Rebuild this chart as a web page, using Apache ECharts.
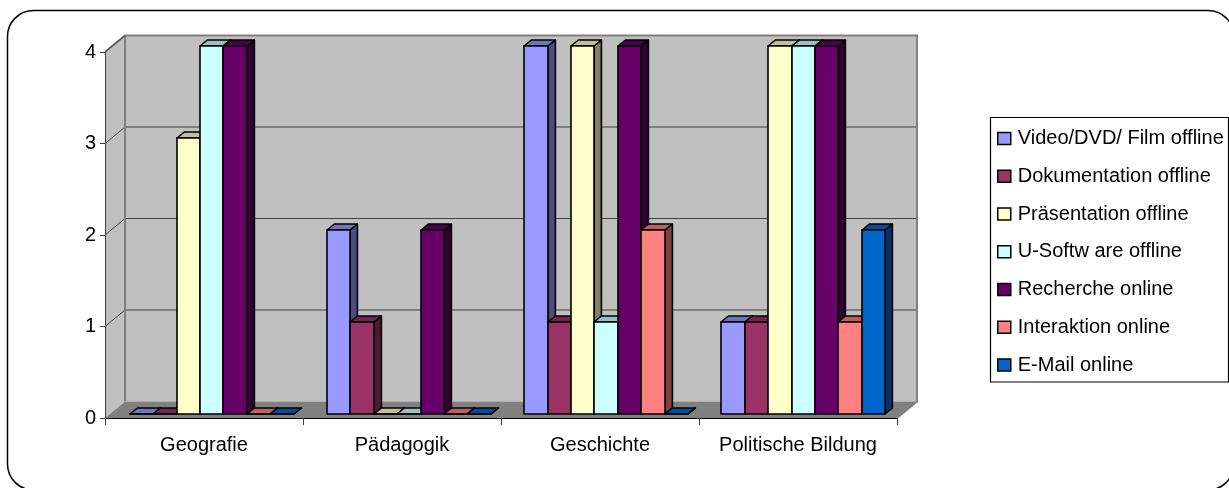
<!DOCTYPE html>
<html>
<head>
<meta charset="utf-8">
<style>html,body{margin:0;padding:0;background:#fff}#chart{width:1229px;height:488px}</style>
<script src="https://cdn.jsdelivr.net/npm/echarts@6/dist/echarts.min.js"></script>
</head>
<body>
<div id="chart"></div>
<script>
const categories = ['Geografie', 'Pädagogik', 'Geschichte', 'Politische Bildung'];
const yTicks = [0, 1, 2, 3, 4];
const videoOffline = [0, 2, 4, 1];
const dokuOffline = [0, 1, 1, 1];
const praesentationOffline = [3, 0, 4, 4];
const softwareOffline = [4, 0, 1, 4];
const rechercheOnline = [4, 2, 4, 4];
const interaktionOnline = [0, 0, 2, 1];
const mailOnline = [0, 0, 0, 2];

const seriesDefs = [
  ['Video/DVD/ Film offline', videoOffline, '#9999FF'],
  ['Dokumentation offline', dokuOffline, '#993366'],
  ['Präsentation offline', praesentationOffline, '#FFFFCC'],
  ['U-Softw are offline', softwareOffline, '#CCFFFF'],
  ['Recherche online', rechercheOnline, '#660066'],
  ['Interaktion online', interaktionOnline, '#FF8080'],
  ['E-Mail online', mailOnline, '#0066CC']
];

const FONT = '"Liberation Sans", Arial, sans-serif';
// Oblique projection: how far the back wall and each bar's back face shift on screen.
const WALL_DX = 20, WALL_DY = -16.5;
const BAR_DX = 7.4, BAR_DY = -6;
const BAR_RATIO = 0.1186;

function shade(hex, k) {
  const n = parseInt(hex.slice(1), 16);
  const c = [(n >> 16) & 255, (n >> 8) & 255, n & 255].map(v => Math.round(v * k));
  return 'rgb(' + c.join(',') + ')';
}

// Walls, floor and the gridlines that wrap around the side wall and back wall.
function renderFrame(params, api) {
  const xs = [api.coord([0, 0])[0] - api.size([1, 0])[0] / 2,
              api.coord([3, 0])[0] + api.size([1, 0])[0] / 2];
  const x0 = xs[0], x1 = xs[1];
  const yBase = api.coord([0, 0])[1];
  const yTop = api.coord([0, 4])[1];
  const bx0 = x0 + WALL_DX, bx1 = x1 + WALL_DX;
  const children = [
    { type: 'polygon', shape: { points: [[x0, yTop], [bx0, yTop + WALL_DY], [bx0, yBase + WALL_DY], [x0, yBase]] },
      style: { fill: '#C0C0C0', stroke: null } },
    { type: 'rect', shape: { x: bx0, y: yTop + WALL_DY, width: bx1 - bx0, height: yBase - yTop },
      style: { fill: '#C0C0C0', stroke: null } },
    { type: 'polygon', shape: { points: [[x0, yBase], [x1, yBase], [bx1, yBase + WALL_DY], [bx0, yBase + WALL_DY]] },
      style: { fill: '#808080', stroke: null } }
  ];
  yTicks.forEach(t => {
    const y = api.coord([0, t])[1];
    if (t > 0 && t < 4) {
      children.push({ type: 'polyline', shape: { points: [[x0, y], [bx0, y + WALL_DY], [bx1, y + WALL_DY]] },
        style: { fill: null, stroke: '#404040', lineWidth: 1 } });
    }
  });
  children.push({ type: 'polyline', shape: { points: [[x0, yTop], [bx0, yTop + WALL_DY], [bx1, yTop + WALL_DY], [bx1, yBase + WALL_DY], [x1, yBase]] },
    style: { fill: null, stroke: '#808080', lineWidth: 2 } });
  children.push({ type: 'line', shape: { x1: bx0, y1: yTop + WALL_DY, x2: bx0, y2: yBase + WALL_DY },
    style: { stroke: '#808080', lineWidth: 2 } });
  children.push({ type: 'line', shape: { x1: x0, y1: yTop, x2: bx0, y2: yTop + WALL_DY },
    style: { stroke: '#404040', lineWidth: 1 } });
  return { type: 'group', children };
}

// One oblique box: side face, top face, then front face.
function barRenderer(index, color) {
  return function (params, api) {
    const top = api.coord([api.value(0), api.value(1)]);
    const base = api.coord([api.value(0), 0]);
    const w = api.size([1, 0])[0] * BAR_RATIO;
    const left = Math.round(top[0] - 3.5 * w + index * w);
    const right = Math.round(top[0] - 3.5 * w + (index + 1) * w);
    const edge = { stroke: '#000', lineWidth: 1.6, lineJoin: 'round' };
    return {
      type: 'group',
      children: [
        { type: 'polygon', shape: { points: [[right, top[1]], [right + BAR_DX, top[1] + BAR_DY], [right + BAR_DX, base[1] + BAR_DY], [right, base[1]]] },
          style: Object.assign({ fill: shade(color, 0.5) }, edge) },
        { type: 'polygon', shape: { points: [[left, top[1]], [left + BAR_DX, top[1] + BAR_DY], [right + BAR_DX, top[1] + BAR_DY], [right, top[1]]] },
          style: Object.assign({ fill: shade(color, 0.75) }, edge) },
        { type: 'rect', shape: { x: left, y: top[1], width: right - left, height: base[1] - top[1] },
          style: Object.assign({ fill: color }, edge) }
      ]
    };
  };
}

const chart = echarts.init(document.getElementById('chart'), null, { renderer: 'canvas' });
chart.setOption({
  animation: false,
  backgroundColor: '#fff',
  textStyle: { fontFamily: FONT, color: '#000' },
  graphic: [
    { type: 'rect', z: 0, silent: true,
      shape: { x: 7.5, y: 10.5, width: 1226.5, height: 479.5, r: 26 },
      style: { fill: '#fff', stroke: '#000', lineWidth: 1.5 } },
    { type: 'rect', z: 1, silent: true,
      shape: { x: 990.5, y: 117.5, width: 238, height: 264.5 },
      style: { fill: '#fff', stroke: '#000', lineWidth: 1.2 } }
  ],
  legend: {
    orient: 'vertical',
    left: 997, top: 127,
    padding: 0,
    itemWidth: 13, itemHeight: 12,
    itemGap: 14.75,
    icon: 'rect',
    selectedMode: false,
    itemStyle: { borderColor: '#000', borderWidth: 1.5 },
    textStyle: { fontFamily: FONT, fontSize: 20, color: '#000', padding: [0, 0, 0, 2], lineHeight: 23 },
    data: seriesDefs.map(d => d[0])
  },
  grid: [
    { left: 105, top: 52, width: 792, height: 366, containLabel: false },
    { left: 113, top: 46, width: 789, height: 368, containLabel: false }
  ],
  xAxis: [
    { type: 'category', gridIndex: 0, data: categories, z: 6,
      axisLine: { lineStyle: { color: '#000', width: 1.2 } },
      axisTick: { show: true, alignWithLabel: false, length: 7, lineStyle: { color: '#404040' } },
      axisLabel: { fontFamily: FONT, fontSize: 20, color: '#000', margin: 17, interval: 0 } },
    { type: 'category', gridIndex: 1, data: categories, show: false }
  ],
  yAxis: [
    { type: 'value', gridIndex: 0, min: 0, max: 4, interval: 1, z: 6,
      axisLine: { show: true, lineStyle: { color: '#404040', width: 1 } },
      axisTick: { show: true, length: 5, lineStyle: { color: '#404040' } },
      splitLine: { show: false },
      axisLabel: { fontFamily: FONT, fontSize: 20, color: '#000', margin: 9 } },
    { type: 'value', gridIndex: 1, min: 0, max: 4, interval: 1, show: false, splitLine: { show: false } }
  ],
  series: [
    { type: 'custom', name: 'Rahmen', xAxisIndex: 0, yAxisIndex: 0, z: 2,
      data: [[0, 0]], encode: { x: 0, y: 1 }, renderItem: renderFrame, silent: true }
  ].concat(seriesDefs.map((d, i) => ({
    type: 'custom', name: d[0], xAxisIndex: 1, yAxisIndex: 1, z: 3,
    itemStyle: { color: d[2] },
    encode: { x: 0, y: 1 },
    data: d[1].map((v, c) => [c, v]),
    renderItem: barRenderer(i, d[2])
  })))
});
</script>
</body>
</html>
